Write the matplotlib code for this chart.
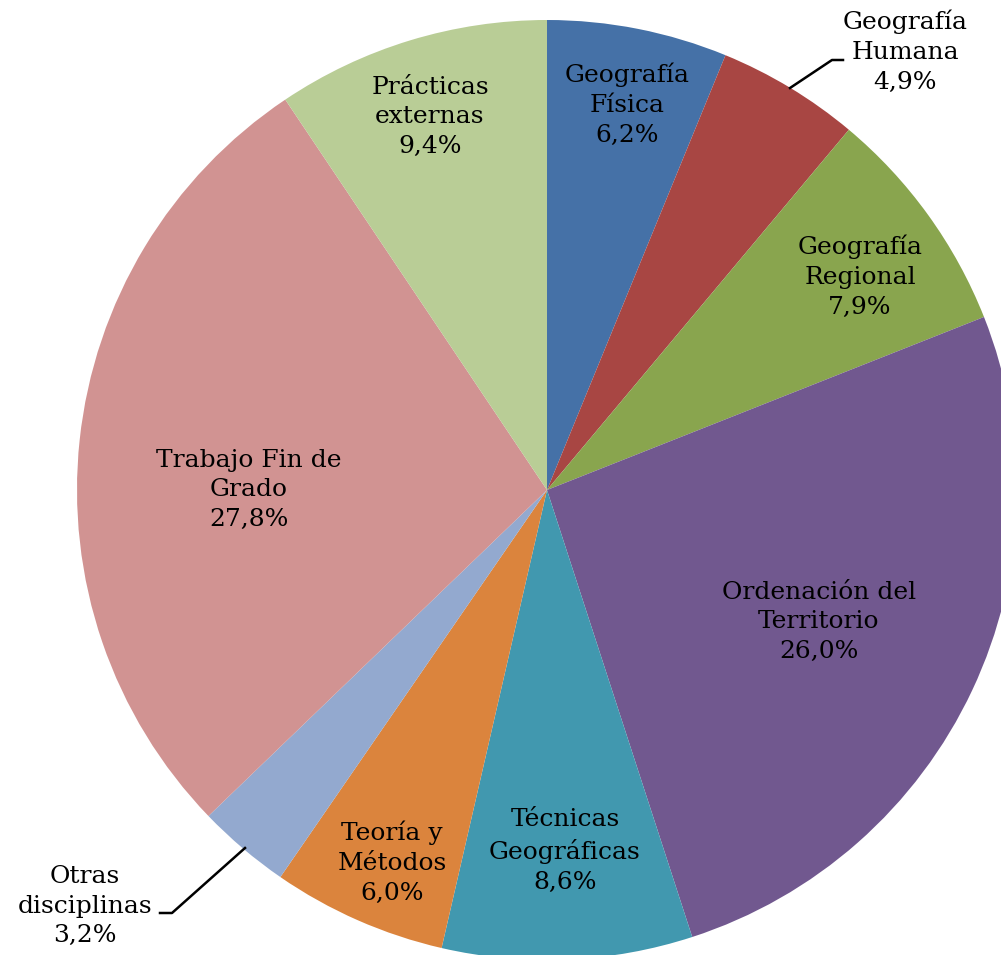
import numpy as np
import matplotlib
matplotlib.use("Agg")
import matplotlib.pyplot as plt

labels = ["Geografía\nFísica", "Geografía\nHumana", "Geografía\nRegional",
          "Ordenación del\nTerritorio", "Técnicas\nGeográficas", "Teoría y\nMétodos",
          "Otras\ndisciplinas", "Trabajo Fin de\nGrado", "Prácticas\nexternas"]
values = [6.2, 4.9, 7.9, 26.0, 8.6, 6.0, 3.2, 27.8, 9.4]
colors = ["#4571A7", "#A84643", "#89A54E", "#71588F", "#4198AF",
          "#DB843D", "#93A9CF", "#D19392", "#B9CD96"]

W, H = 1001, 955
fig = plt.figure(figsize=(W / 100, H / 100), dpi=100)
ax = fig.add_axes([0, 0, 1, 1])

cx, cy, r = 547, H - 490, 470
ax.pie(values, colors=colors, startangle=90, counterclock=False,
       center=(cx, cy), radius=r, frame=True,
       wedgeprops=dict(linewidth=0))
ax.set_xlim(0, W)
ax.set_ylim(0, H)
ax.set_aspect("equal")
ax.axis("off")

# label positions in pixels (from top-left)
label_pos = [(627, 105), (905, 52), (860, 277), (819, 622), (565, 851),
             (392, 863), (85, 906), (249, 490), (430, 117)]
for lab, v, (x, y) in zip(labels, values, label_pos):
    txt = lab + "\n" + f"{v:.1f}".replace(".", ",") + "%"
    ax.text(x, H - y, txt, ha="center", va="center", fontsize=18,
            family="DejaVu Serif", linespacing=1.38, color="#000000")

# leader lines
ax.plot([790, 832, 843], [H - 88, H - 60, H - 60], color="black", lw=1.8)
ax.plot([245, 172, 160], [H - 848, H - 913, H - 913], color="black", lw=1.8)

fig.savefig("out.png", dpi=100)
